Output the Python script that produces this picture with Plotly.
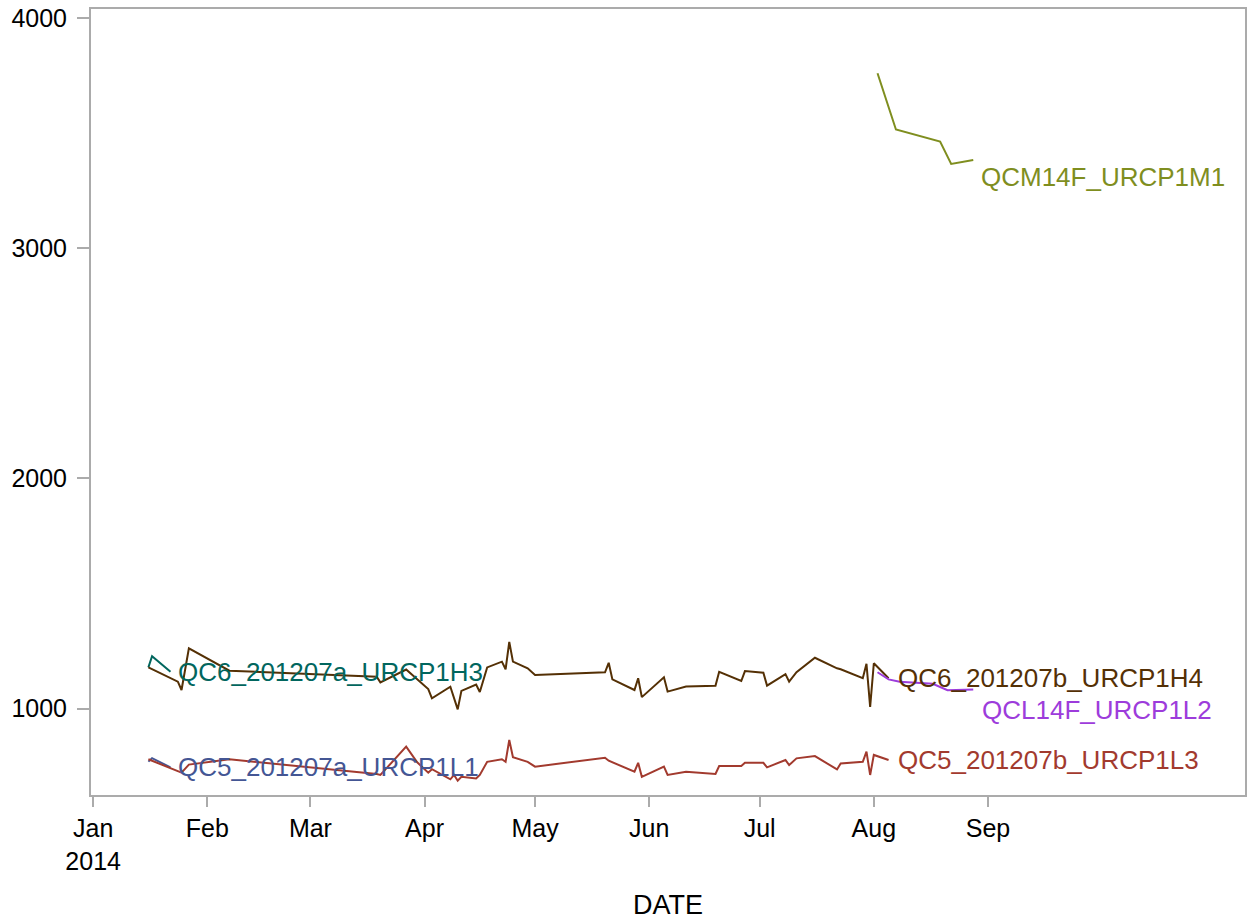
import plotly.graph_objects as go

# ---- data ----
h3_dates = ["2014-01-16", "2014-01-17", "2014-01-22"]
h3_vals = [1179, 1228, 1160]

l1_dates = ["2014-01-16", "2014-01-17", "2014-01-22"]
l1_vals = [770, 785, 745]

h4_dates = ["2014-01-16", "2014-01-24", "2014-01-25", "2014-01-27", "2014-02-07",
            "2014-03-19", "2014-03-20", "2014-03-27", "2014-04-02", "2014-04-03",
            "2014-04-08", "2014-04-10", "2014-04-11", "2014-04-15", "2014-04-16",
            "2014-04-18", "2014-04-22", "2014-04-23", "2014-04-24", "2014-04-25",
            "2014-04-29", "2014-05-01", "2014-05-20", "2014-05-21", "2014-05-22",
            "2014-05-28", "2014-05-29", "2014-05-30", "2014-06-05", "2014-06-06",
            "2014-06-11", "2014-06-19", "2014-06-20", "2014-06-26", "2014-06-27",
            "2014-07-02", "2014-07-03", "2014-07-08", "2014-07-09", "2014-07-11",
            "2014-07-16", "2014-07-22", "2014-07-23", "2014-07-29", "2014-07-30",
            "2014-07-31", "2014-08-01", "2014-08-05"]
h4_vals = [1179, 1117, 1081, 1262, 1165,
           1139, 1114, 1170, 1085, 1045,
           1095, 997, 1077, 1105, 1072,
           1179, 1204, 1171, 1290, 1204,
           1175, 1146, 1158, 1199, 1127,
           1081, 1132, 1050, 1136, 1074,
           1096, 1099, 1160, 1120, 1163,
           1156, 1100, 1150, 1117, 1158,
           1221, 1175, 1171, 1132, 1195,
           1008, 1197, 1132]

l3_dates = ["2014-01-16", "2014-01-24", "2014-01-25", "2014-01-27", "2014-02-07",
            "2014-03-19", "2014-03-20", "2014-03-27", "2014-03-30", "2014-04-02",
            "2014-04-03", "2014-04-08", "2014-04-09", "2014-04-10", "2014-04-11",
            "2014-04-15", "2014-04-16", "2014-04-18", "2014-04-22", "2014-04-23",
            "2014-04-24", "2014-04-25", "2014-04-29", "2014-05-01", "2014-05-20",
            "2014-05-21", "2014-05-28", "2014-05-29", "2014-05-30", "2014-06-05",
            "2014-06-06", "2014-06-11", "2014-06-19", "2014-06-20", "2014-06-26",
            "2014-06-27", "2014-07-02", "2014-07-03", "2014-07-08", "2014-07-09",
            "2014-07-11", "2014-07-16", "2014-07-22", "2014-07-23", "2014-07-29",
            "2014-07-30", "2014-07-31", "2014-08-01", "2014-08-05"]
l3_vals = [780, 728, 722, 757, 780,
           716, 712, 835, 767, 722,
           737, 693, 712, 687, 704,
           697, 712, 769, 780, 769,
           864, 789, 769, 748, 787,
           774, 726, 765, 704, 748,
           712, 726, 716, 751, 751,
           765, 765, 745, 777, 755,
           784, 794, 736, 762, 769,
           813, 712, 799, 777]

l2_dates = ["2014-08-02", "2014-08-05", "2014-08-08", "2014-08-17", "2014-08-21", "2014-08-28"]
l2_vals = [1158, 1127, 1117, 1108, 1080, 1083]

m1_dates = ["2014-08-02", "2014-08-07", "2014-08-19", "2014-08-22", "2014-08-28"]
m1_vals = [3759, 3515, 3462, 3365, 3382]

tick_dates = ["2014-01-01", "2014-02-01", "2014-03-01", "2014-04-01", "2014-05-01",
              "2014-06-01", "2014-07-01", "2014-08-01", "2014-09-01"]
tick_labels = ["Jan<br>2014", "Feb", "Mar", "Apr", "May", "Jun", "Jul", "Aug", "Sep"]
y_ticks = [1000, 2000, 3000, 4000]

# name, dates, values, colour, label x-shift, label y-shift
series = [
    ("QC5_201207a_URCP1L1", l1_dates, l1_vals, "#445694", 6, 0),
    ("QC5_201207b_URCP1L3", l3_dates, l3_vals, "#A23A2E", 7, 0),
    ("QC6_201207a_URCP1H3", h3_dates, h3_vals, "#01665E", 6, 0),
    ("QC6_201207b_URCP1H4", h4_dates, h4_vals, "#543005", 7, 0),
    ("QCL14F_URCP1L2", l2_dates, l2_vals, "#9D3CDB", 7, -20),
    ("QCM14F_URCP1M1", m1_dates, m1_vals, "#7F8E1F", 6, -17),
]

FONT = "Liberation Sans, Arial, sans-serif"

fig = go.Figure()
annotations = []
for name, d, v, col, xs, ys in series:
    fig.add_trace(go.Scatter(x=d, y=v, mode="lines", name=name,
                             line=dict(color=col, width=2), showlegend=False))
    annotations.append(dict(x=d[-1], y=v[-1], xref="x", yref="y", text=name,
                            showarrow=False, xanchor="left", yanchor="middle",
                            xshift=xs, yshift=ys,
                            font=dict(family=FONT, size=26, color=col)))

axis_col = "#ABABAB"
fig.update_layout(
    width=1249, height=922,
    margin=dict(l=91, r=2, t=9, b=127),
    paper_bgcolor="white", plot_bgcolor="white",
    font=dict(family=FONT, size=25, color="black"),
    annotations=annotations,
    xaxis=dict(
        type="date",
        range=["2013-12-31 10:00", "2014-11-09 19:00"],
        tickvals=tick_dates, ticktext=tick_labels,
        showgrid=False, zeroline=False,
        showline=True, linecolor=axis_col, linewidth=2, mirror=True,
        ticks="outside", ticklen=10, tickwidth=2, tickcolor=axis_col,
        tickfont=dict(size=25, color="black"),
        title=dict(text="DATE", font=dict(size=27, color="black"), standoff=22),
    ),
    yaxis=dict(
        range=[625, 4038],
        tickvals=y_ticks, ticktext=[str(t) for t in y_ticks],
        showgrid=False, zeroline=False,
        showline=True, linecolor=axis_col, linewidth=2, mirror=True,
        ticks="outside", ticklen=12, tickwidth=2, tickcolor=axis_col,
        tickfont=dict(size=25, color="black"),
        ticklabelstandoff=5,
    ),
)

fig.write_html("out.html", config={"displayModeBar": False},
               post_script="document.body.style.margin='0';")
